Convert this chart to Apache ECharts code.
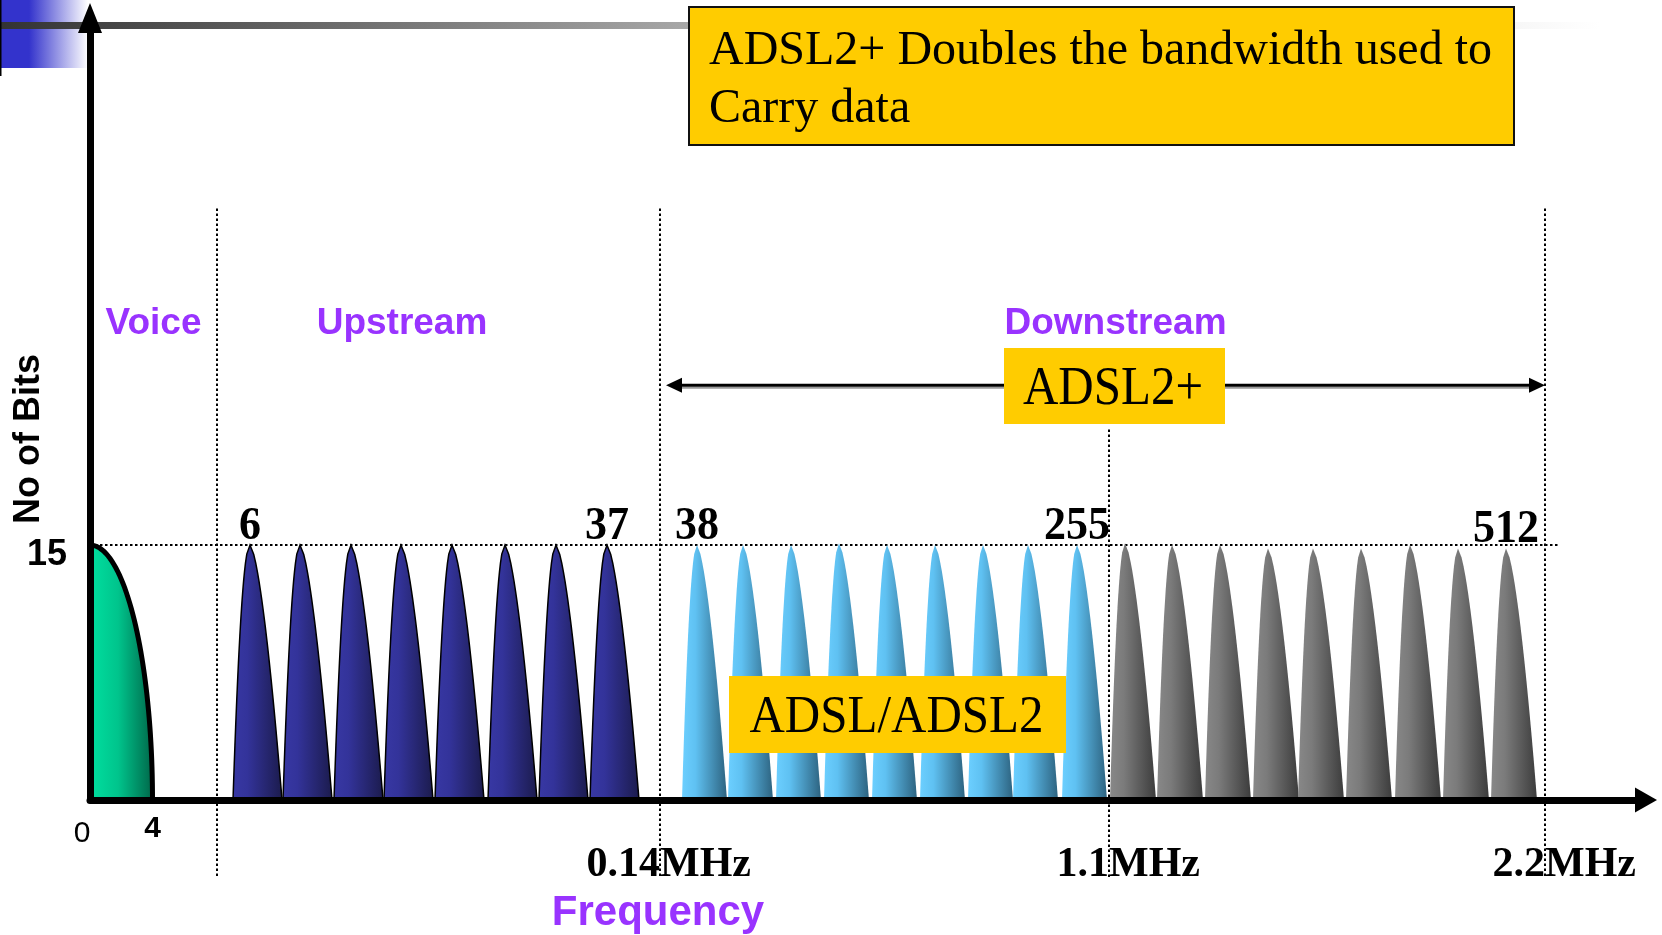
<!DOCTYPE html>
<html>
<head>
<meta charset="utf-8">
<title>ADSL2+ spectrum</title>
<script src="https://cdn.jsdelivr.net/npm/echarts@6/dist/echarts.min.js"></script>
<style>
  html, body { margin: 0; padding: 0; background: #ffffff; }
  #chart { width: 1662px; height: 935px; }
</style>
</head>
<body>
<div id="chart"></div>
<script>
// Schematic DSL spectrum: x is a position along the frequency line (schematic units),
// y is the number of bits carried per tone.
const bitsTicks = [15];

const voiceBand = [0, 12.5];          // POTS band, 0 .. 4 kHz
const voiceBits = [15];

const upstreamPos  = [32, 42, 52.2, 62.2, 72.4, 83, 93.2, 103.4];
const upstreamBits = [15, 15, 15, 15, 15, 15, 15, 15];
const upstreamEdgeTones = ['6', '37'];

const adslPos  = [121.4, 130.6, 140.2, 149.8, 159.4, 169, 178.6, 187.6, 197.4];
const adslBits = [15, 15, 15, 15.1, 15, 15, 15, 15, 15];
const adslEdgeTones = ['38', '255'];

const adsl2PlusPos  = [207, 216.4, 226, 235.6, 244.6, 254.2, 264, 273.6, 283.2];
const adsl2PlusBits = [15.1, 15, 15, 14.8, 14.8, 14.8, 15, 14.8, 14.8];
const adsl2PlusEdgeTones = ['', '512'];

const freqTickPos    = [0, 12.5, 114, 203.8, 291];
const freqTickLabels = ['0', '4', '0.14MHz', '1.1MHz', '2.2MHz'];

const bandEdges = [25.4, 114, 203.8, 291];
const adsl2PlusSpan = [115.2, 291];

// ---- layout constants -------------------------------------------------
const EDGE_TOPS = [34.8, 34.8, 21.8, 34.8];   // where each dotted band edge starts
const EDGE_BOTTOM = -4.6;                     // dotted edges run a little below the axis
const FULL_LINE_END = 294;                    // end of the dotted 15-bit reference line
const SPAN_ARROW_Y = 24.4;

const SANS = '"Liberation Sans", Arial, sans-serif';
const SERIF = '"Liberation Serif", "Times New Roman", serif';
const PURPLE = '#9933ff';
const YELLOW = '#ffcc00';

const measureCtx = document.createElement('canvas').getContext('2d');
function textWidth(str, font) {
  measureCtx.font = font;
  return measureCtx.measureText(str).width;
}

function hGradient(stops) {
  return new echarts.graphic.LinearGradient(0, 0, 1, 0,
    stops.map(s => ({ offset: s[0], color: s[1] })));
}

// one tone: steep rounded rise on the left, longer fall on the right
function peakSeries(name, pos, bits, edgeTones, look) {
  return {
    type: 'custom',
    name: name,
    silent: true,
    z: 3,
    data: pos.map((p, i) => [p, bits[i]]),
    encode: { x: 0, y: 1 },
    renderItem: function (params, api) {
      const x = api.value(0);
      const h = api.value(1);
      const N = 28;
      const pts = [];
      for (let k = 0; k <= N; k++) {
        const t = k / N;
        pts.push(api.coord([x - look.left * Math.sqrt(1 - t), h * t]));
      }
      for (let k = N - 1; k >= 0; k--) {
        const t = k / N;
        pts.push(api.coord([x + look.right * Math.pow(1 - t, 0.65), h * t]));
      }
      const children = [{
        type: 'polygon',
        shape: { points: pts },
        style: {
          fill: hGradient(look.fill),
          stroke: look.stroke || null,
          lineWidth: look.lineWidth || 0
        }
      }];
      const i = params.dataIndex;
      const n = pos.length;
      const tone = i === 0 ? edgeTones[0] : (i === n - 1 ? edgeTones[1] : '');
      if (tone) {
        const apex = api.coord([x, h]);
        children.push({
          type: 'text',
          x: apex[0],
          y: apex[1] - 18,
          scaleY: 1.05,
          style: {
            text: tone,
            font: 'bold 44px ' + SERIF,
            fill: '#000',
            align: 'center',
            verticalAlign: 'middle'
          }
        });
      }
      return { type: 'group', children: children };
    }
  };
}

// x-axis tick labels: frequency labels sit with the unit starting at the band edge
const MHZ_FONT = 'bold 42px ' + SERIF;
const rich = {
  zero: { fontSize: 30, fontFamily: SANS, color: '#000', lineHeight: 30, padding: [18, 16, 0, 0] },
  four: { fontSize: 30, fontFamily: SANS, fontWeight: 'bold', color: '#000', lineHeight: 30, padding: [7, 0, 0, 0] }
};
freqTickLabels.forEach(function (label, i) {
  const m = label.match(/^([\d.]+)(MHz)$/);
  if (!m) return;
  const wNum = textWidth(m[1], MHZ_FONT);
  const wUnit = textWidth(m[2], MHZ_FONT);
  const left = Math.max(0, wUnit - wNum);
  const right = Math.max(0, wNum - wUnit);
  rich['mhz' + i] = {
    fontSize: 42, fontFamily: SERIF, fontWeight: 'bold', color: '#000',
    lineHeight: 42, padding: [68, right, 0, left]
  };
});

function freqLabel(value) {
  let idx = 0, best = Infinity;
  freqTickPos.forEach(function (p, i) {
    const d = Math.abs(p - value);
    if (d < best) { best = d; idx = i; }
  });
  const text = freqTickLabels[idx];
  if (idx === 0) return '{zero|' + text + '}';
  if (idx === 1) return '{four|' + text + '}';
  return '{mhz' + idx + '|' + text + '}';
}

const option = {
  animation: false,
  backgroundColor: '#ffffff',
  grid: { left: 90, right: 16, top: 18, bottom: 135, outerBoundsMode: 'none', containLabel: false },
  xAxis: {
    type: 'value',
    min: 0,
    max: 311.2,
    z: 10,
    axisLine: {
      show: true,
      lineStyle: { color: '#000', width: 7 },
      symbol: ['none', 'triangle'],
      symbolSize: [25, 22]
    },
    axisTick: { show: false },
    splitLine: { show: false },
    axisLabel: {
      customValues: freqTickPos,
      margin: 10,
      formatter: freqLabel,
      rich: rich
    },
    name: 'Frequency',
    nameLocation: 'middle',
    nameGap: 92.5,
    nameMoveOverlap: false,
    nameTextStyle: {
      color: PURPLE, fontSize: 42, fontWeight: 'bold', fontFamily: SANS,
      padding: [0, 420, 0, 0]
    }
  },
  yAxis: {
    type: 'value',
    min: 0,
    max: 46,
    z: 10,
    axisLine: {
      show: true,
      lineStyle: { color: '#000', width: 7 },
      symbol: ['none', 'triangle'],
      symbolSize: [24, 30]
    },
    axisTick: { show: false },
    splitLine: { show: false },
    axisLabel: {
      customValues: bitsTicks,
      margin: 23,
      formatter: '{v|{value}}',
      rich: {
        v: {
          color: '#000', fontSize: 36, fontWeight: 'bold', fontFamily: SANS,
          lineHeight: 36, padding: [20, 0, 0, 0]
        }
      }
    },
    name: 'No of Bits',
    nameLocation: 'middle',
    nameRotate: 90,
    nameGap: 43,
    nameMoveOverlap: false,
    nameTextStyle: {
      color: '#000', fontSize: 36, fontWeight: 'bold', fontFamily: SANS,
      padding: [0, 60, 0, 0]
    }
  },
  series: [
    {
      // dotted band edges
      type: 'custom',
      name: 'band edges',
      silent: true,
      z: 1,
      data: bandEdges.map((x, i) => [x, EDGE_TOPS[i]]),
      encode: { x: 0, y: 1 },
      renderItem: function (params, api) {
        const top = api.coord([api.value(0), api.value(1)]);
        const bottom = api.coord([api.value(0), EDGE_BOTTOM]);
        return {
          type: 'line',
          shape: { x1: top[0], y1: top[1], x2: bottom[0], y2: bottom[1] },
          style: { stroke: '#000', lineWidth: 2, lineDash: [2.5, 2.5] }
        };
      }
    },
    {
      // dotted 15-bit reference level
      type: 'custom',
      name: 'max bits',
      silent: true,
      z: 1,
      data: bitsTicks.map(b => [0, FULL_LINE_END, b]),
      encode: { x: [0, 1], y: 2 },
      renderItem: function (params, api) {
        const a = api.coord([api.value(0), api.value(2)]);
        const b = api.coord([api.value(1), api.value(2)]);
        return {
          type: 'line',
          shape: { x1: a[0], y1: a[1], x2: b[0], y2: b[1] },
          style: { stroke: '#000', lineWidth: 2, lineDash: [2.5, 2.5] }
        };
      }
    },
    {
      // voice band: quarter-elliptic roll-off from 15 bits down to 4 kHz
      type: 'custom',
      name: 'Voice',
      silent: true,
      z: 3,
      data: [[voiceBand[0], voiceBand[1], voiceBits[0]]],
      encode: { x: [0, 1], y: 2 },
      renderItem: function (params, api) {
        const x0 = api.value(0), x1 = api.value(1), h = api.value(2);
        const N = 48;
        const curve = [];
        for (let k = 0; k <= N; k++) {
          const a = (k / N) * Math.PI / 2;
          curve.push(api.coord([x0 + (x1 - x0) * Math.sin(a), h * Math.cos(a)]));
        }
        const base0 = api.coord([x0, 0]);
        return {
          type: 'group',
          children: [
            {
              type: 'polygon',
              shape: { points: [base0].concat(curve) },
              style: { fill: hGradient([[0, '#00e0a0'], [0.45, '#00c48c'], [1, '#00684a']]) }
            },
            {
              type: 'polyline',
              shape: { points: curve },
              style: { stroke: '#000', lineWidth: 5, fill: null }
            }
          ]
        };
      }
    },
    peakSeries('Upstream', upstreamPos, upstreamBits, upstreamEdgeTones, {
      left: 3.4, right: 6.4,
      fill: [[0, '#3838a4'], [0.3, '#33339a'], [1, '#1b1b4c']],
      stroke: '#000', lineWidth: 1.5
    }),
    peakSeries('ADSL/ADSL2', adslPos, adslBits, adslEdgeTones, {
      left: 3.0, right: 6.0,
      fill: [[0, '#6ccfff'], [0.3, '#5fc1f2'], [1, '#2d6380']]
    }),
    peakSeries('ADSL2+', adsl2PlusPos, adsl2PlusBits, adsl2PlusEdgeTones, {
      left: 3.0, right: 6.2,
      fill: [[0, '#888888'], [0.3, '#7b7b7b'], [1, '#3c3c3c']]
    }),
    {
      // ADSL2+ downstream span arrow
      type: 'custom',
      name: 'ADSL2+ span',
      silent: true,
      z: 4,
      data: [[adsl2PlusSpan[0], adsl2PlusSpan[1], SPAN_ARROW_Y]],
      encode: { x: [0, 1], y: 2 },
      renderItem: function (params, api) {
        const a = api.coord([api.value(0), api.value(2)]);
        const b = api.coord([api.value(1), api.value(2)]);
        const len = 16, half = 7.5;
        return {
          type: 'group',
          children: [
            {
              type: 'line',
              shape: { x1: a[0] + len, y1: a[1] + 2.5, x2: b[0] - len, y2: b[1] + 2.5 },
              style: { stroke: '#9a9a9a', lineWidth: 2 }
            },
            {
              type: 'line',
              shape: { x1: a[0] + len - 2, y1: a[1], x2: b[0] - len + 2, y2: b[1] },
              style: { stroke: '#000', lineWidth: 3 }
            },
            {
              type: 'polygon',
              shape: { points: [[a[0], a[1]], [a[0] + len, a[1] - half], [a[0] + len, a[1] + half]] },
              style: { fill: '#000' }
            },
            {
              type: 'polygon',
              shape: { points: [[b[0], b[1]], [b[0] - len, b[1] - half], [b[0] - len, b[1] + half]] },
              style: { fill: '#000' }
            }
          ]
        };
      }
    }
  ],
  graphic: [
    {
      type: 'rect', z: 0, silent: true,
      shape: { x: 0, y: 0, width: 88, height: 68 },
      style: { fill: hGradient([[0, '#3333cc'], [0.33, '#3333cc'], [1, '#ffffff']]) }
    },
    {
      type: 'rect', z: 0, silent: true,
      shape: { x: 0, y: 22, width: 1600, height: 7 },
      style: { fill: hGradient([[0, '#333333'], [0.44, '#aaaaaa'], [1, '#ffffff']]) }
    },
    {
      type: 'rect', z: 0, silent: true,
      shape: { x: 0, y: 0, width: 1.5, height: 76 },
      style: { fill: '#000' }
    },
    {
      type: 'rect', z: 100, silent: true,
      shape: { x: 689, y: 7, width: 825, height: 138 },
      style: { fill: YELLOW, stroke: '#111', lineWidth: 2 }
    },
    {
      type: 'text', z: 101, silent: true,
      x: 709, y: 51,
      style: { text: 'ADSL2+ Doubles the bandwidth used to', font: '48px ' + SERIF, fill: '#000', align: 'left', verticalAlign: 'middle' }
    },
    {
      type: 'text', z: 101, silent: true,
      x: 709, y: 109,
      style: { text: 'Carry data', font: '48px ' + SERIF, fill: '#000', align: 'left', verticalAlign: 'middle' }
    },
    {
      type: 'rect', z: 100, silent: true,
      shape: { x: 1004, y: 348, width: 221, height: 76 },
      style: { fill: YELLOW }
    },
    {
      type: 'text', z: 101, silent: true,
      x: 1113, y: 390, scaleY: 1.1,
      style: { text: 'ADSL2+', font: '49px ' + SERIF, fill: '#000', align: 'center', verticalAlign: 'middle' }
    },
    {
      type: 'rect', z: 100, silent: true,
      shape: { x: 729, y: 676, width: 337, height: 77 },
      style: { fill: YELLOW }
    },
    {
      type: 'text', z: 101, silent: true,
      x: 896.5, y: 718.5, scaleY: 1.08,
      style: { text: 'ADSL/ADSL2', font: '49px ' + SERIF, fill: '#000', align: 'center', verticalAlign: 'middle' }
    },
    {
      type: 'text', z: 101, silent: true,
      x: 153.5, y: 324,
      style: { text: 'Voice', font: 'bold 37px ' + SANS, fill: PURPLE, align: 'center', verticalAlign: 'middle' }
    },
    {
      type: 'text', z: 101, silent: true,
      x: 402, y: 324,
      style: { text: 'Upstream', font: 'bold 37px ' + SANS, fill: PURPLE, align: 'center', verticalAlign: 'middle' }
    },
    {
      type: 'text', z: 101, silent: true,
      x: 1115.5, y: 324,
      style: { text: 'Downstream', font: 'bold 37px ' + SANS, fill: PURPLE, align: 'center', verticalAlign: 'middle' }
    }
  ]
};

const chart = echarts.init(document.getElementById('chart'), null, { renderer: 'canvas' });
chart.setOption(option);
</script>
</body>
</html>
